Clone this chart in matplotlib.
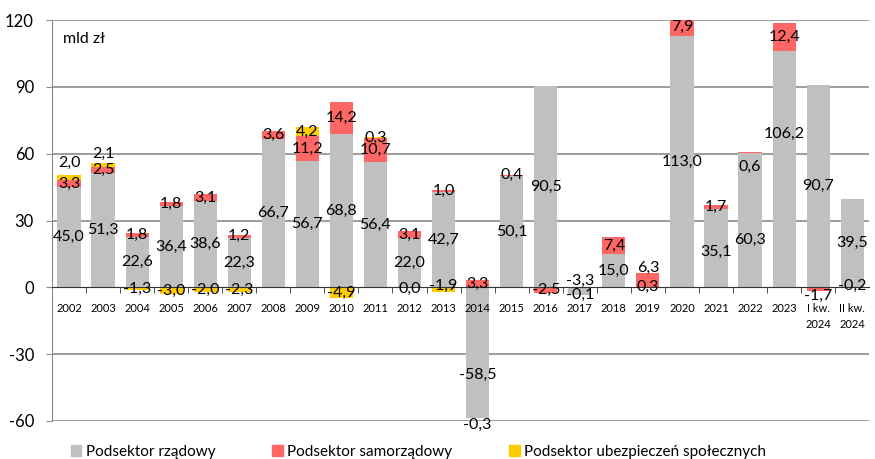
import numpy as np
import matplotlib
matplotlib.use("Agg")
import matplotlib.pyplot as plt
from matplotlib.patches import Patch

plt.rcParams['font.family'] = ['Lato', 'DejaVu Sans']

categories = [str(y) for y in range(2002, 2024)] + ["I kw.\n2024", "II kw.\n2024"]

# mld zł
rzadowy = [45.0, 51.3, 22.6, 36.4, 38.6, 22.3, 66.7, 56.7, 68.8, 56.4, 22.0, 42.7,
           -58.5, 50.1, 90.5, -3.3, 15.0, 0.3, 113.0, 35.1, 60.3, 106.2, 90.7, 39.5]
samorzadowy = [3.3, 2.5, 1.8, 1.8, 3.1, 1.2, 3.6, 11.2, 14.2, 10.7, 3.1, 1.0,
               3.3, 0.4, -2.5, 0.0, 7.4, 6.3, 7.9, 1.7, 0.6, 12.4, -1.7, 0.0]
ubezp = [2.0, 2.1, -1.3, -3.0, -2.0, -2.3, 0.0, 4.2, -4.9, 0.3, 0.0, -1.9,
         -0.3, 0.0, 0.0, -0.1, 0.0, 0.0, 0.0, 0.0, 0.0, 0.0, 0.2, -0.2]

# which values get a label (the chart hides a few)
lab_rz = [True] * 24
lab_sam = [True] * 15 + [False] + [True] * 7 + [False]
lab_ub = [True] * 6 + [False, True, True, True, True, True, True,
                       False, False, True, False, False, False, False, False, False, False, True]

series = [("Podsektor rządowy", rzadowy, "#C0C0C0", lab_rz),
          ("Podsektor samorządowy", samorzadowy, "#FF6666", lab_sam),
          ("Podsektor ubezpieczeń społecznych", ubezp, "#FFCC00", lab_ub)]

# manual nudges of some labels (data units), as in the original
nudge = {(0, 12): -10, (0, 15): 4.6, (0, 20): -8.7, (0, 21): 16, (0, 19): -1.5,
         (1, 17): 5.5, (1, 20): -6.6, (1, 22): -3,
         (2, 0): 6.4, (2, 1): 5.2, (2, 10): -0.5, (2, 11): 1.7, (2, 12): -3, (2, 13): 1.4,
         (2, 23): 0.6}

fig = plt.figure(figsize=(8.75, 4.59), dpi=100)
ax = fig.add_axes([0.0594, 0.0828, 0.934, 0.8736])

for g in [-60, -30, 30, 60, 90, 120]:
    ax.axhline(g, color='#8C8C8C', linewidth=1.2, zorder=0)

x = np.arange(len(categories))
pos_base = np.zeros(len(x))
neg_base = np.zeros(len(x))
for si, (name, vals, col, show) in enumerate(series):
    v = np.array(vals)
    bottom = np.where(v >= 0, pos_base, neg_base)
    ax.bar(x, v, 0.68, bottom=bottom, color=col, zorder=1)
    for i in range(len(x)):
        if show[i]:
            yc = (bottom[i] + v[i] / 2 if v[i] != 0 else 0) + nudge.get((si, i), 0)
            ax.text(x[i], yc, f"{v[i]:.1f}".replace('.', ','), ha='center', va='center',
                    fontsize=11.5, color='black', zorder=5)
    pos_base = pos_base + np.where(v >= 0, v, 0)
    neg_base = neg_base + np.where(v < 0, v, 0)

ax.text(0.013, 0.952, "mld zł", transform=ax.transAxes, fontsize=11.5, va='center')

ax.set_xlim(-0.5, len(x) - 0.5)
ax.set_ylim(-60, 120)
ax.set_yticks([-60, -30, 0, 30, 60, 90, 120])
ax.set_yticklabels([str(t) for t in [-60, -30, 0, 30, 60, 90, 120]], fontsize=12)
ax.tick_params(axis='y', length=4, color='#8C8C8C', pad=9)

ax.spines['bottom'].set_position(('data', 0))
ax.spines['bottom'].set_zorder(4)
ax.spines['bottom'].set_color('#333333')
ax.spines['left'].set_color('#8C8C8C')
ax.spines['top'].set_visible(False)
ax.spines['right'].set_visible(False)
ax.set_xticks(x)
ax.set_xticklabels(categories, fontsize=8, linespacing=1.6)
ax.set_xticks(x[:-1] + 0.5, minor=True)
ax.tick_params(axis='x', which='major', length=0, pad=11)
ax.tick_params(axis='x', which='minor', length=4, direction='out', color='#333333')

handles = [Patch(color=c) for _, _, c, _ in series]
fig.legend(handles, [s[0] for s in series], loc='lower left', bbox_to_anchor=(0.065, -0.03),
           ncol=3, frameon=False, fontsize=11, handlelength=0.7, handleheight=0.7,
           handletextpad=0.3, columnspacing=3.7)

fig.savefig("out.png", dpi=100)
